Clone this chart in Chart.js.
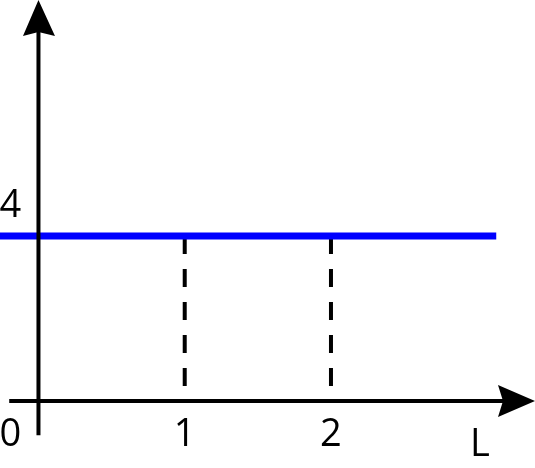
<!DOCTYPE html>
<html>
<head>
<meta charset="utf-8">
<script src="https://cdn.jsdelivr.net/npm/chart.js@4"></script>
<style>
  html, body { margin: 0; padding: 0; background: #fff; }
  #wrap { width: 535px; height: 468px; position: relative; }
</style>
</head>
<body>
<div id="wrap"><canvas id="diagram"></canvas></div>
<script>
// values
const levelValue = 4;              // the blue constant line
const levelFrom = -0.27;           // where the blue line starts / ends on L
const levelTo = 3.13;
const markX = [1, 2];              // dashed drop lines
const markLabels = ['1', '2'];
const yTicks = [4];
const yTickLabels = ['4'];
const originLabel = '0';
const xTitle = 'L';

// axis ranges so the origin sits near the lower left
const xMin = -0.263, xMax = 3.395;
const yMin = -1.624, yMax = 9.721;

const LABEL_FONT = '38px "Open Sans", "Noto Sans", sans-serif';

const datasets = [{
  label: 'level',
  data: [{ x: levelFrom, y: levelValue }, { x: levelTo, y: levelValue }],
  borderColor: '#0000ff',
  borderWidth: 7,
  showLine: true,
  pointRadius: 0,
  order: 0
}];

markX.forEach((v) => {
  datasets.push({
    label: 'drop ' + v,
    data: [{ x: v, y: levelValue }, { x: v, y: 0.3 }],
    borderColor: '#000',
    borderWidth: 4,
    borderDash: [18, 15],
    showLine: true,
    pointRadius: 0,
    order: 1
  });
});

// axes with arrowheads and the text labels, placed from the scales
const axesPlugin = {
  id: 'axes',
  afterDatasetsDraw(chart) {
    const { ctx, scales } = chart;
    const x0 = scales.x.getPixelForValue(0);
    const y0 = scales.y.getPixelForValue(0);
    const w = chart.width;

    ctx.save();
    ctx.strokeStyle = '#000';
    ctx.fillStyle = '#000';
    ctx.lineWidth = 4;
    ctx.lineCap = 'butt';

    // vertical axis
    ctx.beginPath();
    ctx.moveTo(x0, scales.y.getPixelForValue(-0.83));
    ctx.lineTo(x0, 30);
    ctx.stroke();
    // horizontal axis
    ctx.beginPath();
    ctx.moveTo(scales.x.getPixelForValue(-0.2), y0);
    ctx.lineTo(w - 30, y0);
    ctx.stroke();

    // arrow up
    ctx.beginPath();
    ctx.moveTo(x0, 0);
    ctx.lineTo(x0 + 16.5, 36);
    ctx.lineTo(x0, 32);
    ctx.lineTo(x0 - 15.5, 36);
    ctx.closePath();
    ctx.fill();
    // arrow right
    ctx.beginPath();
    ctx.moveTo(w, y0);
    ctx.lineTo(w - 37, y0 + 16);
    ctx.lineTo(w - 32, y0);
    ctx.lineTo(w - 37, y0 - 16);
    ctx.closePath();
    ctx.fill();

    // labels
    ctx.font = LABEL_FONT;
    ctx.textAlign = 'center';
    ctx.textBaseline = 'alphabetic';
    ctx.fillText(originLabel, x0 - 28, y0 + 45);
    markX.forEach((v, i) => {
      ctx.fillText(markLabels[i], scales.x.getPixelForValue(v), y0 + 45);
    });
    yTicks.forEach((v, i) => {
      ctx.fillText(yTickLabels[i], x0 - 28, scales.y.getPixelForValue(v) - 19);
    });
    ctx.fillText(xTitle, 480, y0 + 55);
    ctx.restore();
  }
};

new Chart(document.getElementById('diagram'), {
  type: 'scatter',
  data: { datasets },
  options: {
    responsive: true,
    maintainAspectRatio: false,
    animation: false,
    layout: { padding: 0 },
    scales: {
      x: { type: 'linear', min: xMin, max: xMax, display: false },
      y: { type: 'linear', min: yMin, max: yMax, display: false }
    },
    plugins: { legend: { display: false }, tooltip: { enabled: false } }
  },
  plugins: [axesPlugin]
});
</script>
</body>
</html>
